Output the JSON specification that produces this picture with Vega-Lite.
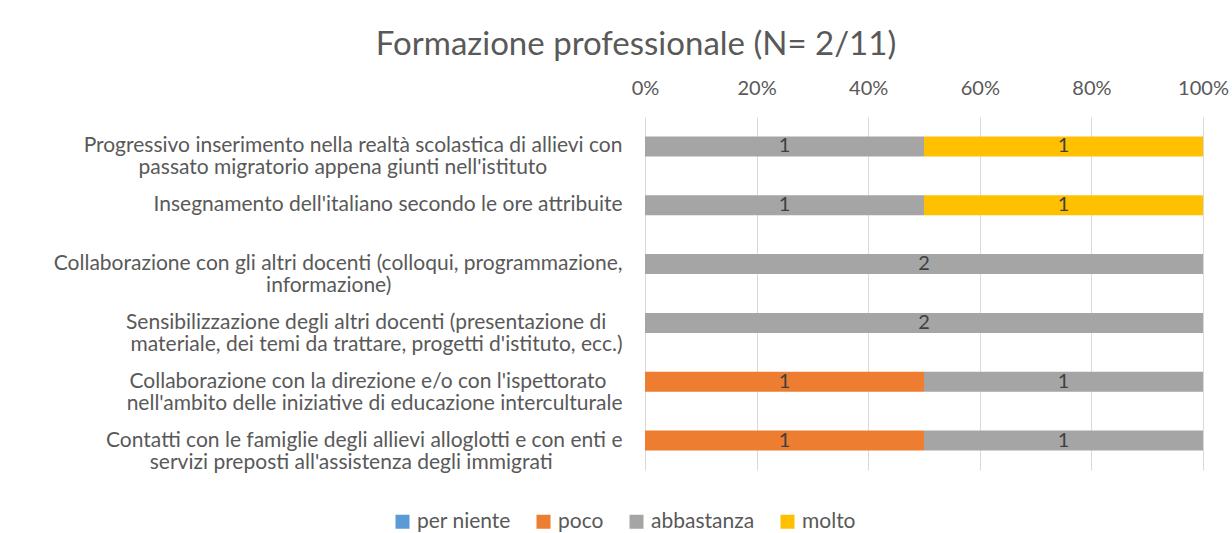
{
  "$schema": "https://vega.github.io/schema/vega-lite/v6.json",
  "width": 558,
  "height": 353,
  "autosize": {"type": "none"},
  "padding": {"left": 645, "top": 117, "right": 29, "bottom": 63},
  "background": "white",
  "title": {
    "text": "Formazione professionale (N= 2/11)",
    "font": "Lato",
    "fontSize": 33,
    "fontWeight": "normal",
    "color": "#595959",
    "anchor": "middle",
    "dx": -288,
    "offset": 16
  },
  "config": {
    "view": {"stroke": null},
    "font": "Lato"
  },
  "data": {
    "values": [
      {"categoria": "Progressivo inserimento nella realtà scolastica di allievi con|passato migratorio appena giunti nell'istituto", "livello": "abbastanza", "valore": 1},
      {"categoria": "Progressivo inserimento nella realtà scolastica di allievi con|passato migratorio appena giunti nell'istituto", "livello": "molto", "valore": 1},
      {"categoria": "Insegnamento dell'italiano secondo le ore attribuite", "livello": "abbastanza", "valore": 1},
      {"categoria": "Insegnamento dell'italiano secondo le ore attribuite", "livello": "molto", "valore": 1},
      {"categoria": "Collaborazione con gli altri docenti (colloqui, programmazione,|informazione)", "livello": "abbastanza", "valore": 2},
      {"categoria": "Sensibilizzazione degli altri docenti (presentazione di|materiale, dei temi da trattare, progetti d'istituto, ecc.)", "livello": "abbastanza", "valore": 2},
      {"categoria": "Collaborazione con la direzione e/o con l'ispettorato|nell'ambito delle iniziative di educazione interculturale", "livello": "poco", "valore": 1},
      {"categoria": "Collaborazione con la direzione e/o con l'ispettorato|nell'ambito delle iniziative di educazione interculturale", "livello": "abbastanza", "valore": 1},
      {"categoria": "Contatti con le famiglie degli allievi alloglotti e con enti e|servizi preposti all'assistenza degli immigrati", "livello": "poco", "valore": 1},
      {"categoria": "Contatti con le famiglie degli allievi alloglotti e con enti e|servizi preposti all'assistenza degli immigrati", "livello": "abbastanza", "valore": 1}
    ]
  },
  "transform": [
    {"calculate": "indexof(['per niente','poco','abbastanza','molto'], datum.livello)", "as": "ord"},
    {"stack": "valore", "groupby": ["categoria"], "sort": [{"field": "ord", "order": "ascending"}], "as": ["x0", "x1"], "offset": "normalize"},
    {"calculate": "(datum.x0 + datum.x1) / 2", "as": "xmid"}
  ],
  "encoding": {
    "y": {
      "field": "categoria",
      "type": "nominal",
      "sort": null,
      "scale": {"paddingInner": 0.66, "paddingOuter": 0.33},
      "axis": {
        "title": null,
        "ticks": false,
        "domain": false,
        "labelExpr": "length(split(datum.label, '|')) < 2 ? datum.label : [pad(split(datum.label, '|')[0], length(split(datum.label, '|')[0]) + round(max(0, length(split(datum.label, '|')[1]) - length(split(datum.label, '|')[0])) * 0.85), '\u00a0') + '\u2060', pad(split(datum.label, '|')[1], length(split(datum.label, '|')[1]) + round(max(0, length(split(datum.label, '|')[0]) - length(split(datum.label, '|')[1])) * 0.85), '\u00a0') + '\u2060']",
        "labelAlign": "right",
        "labelBaseline": "middle",
        "labelPadding": 23,
        "labelLimit": 0,
        "labelFont": "Lato",
        "labelFontSize": 21,
        "labelLineHeight": 22,
        "labelColor": "#595959"
      }
    }
  },
  "layer": [
    {
      "mark": {"type": "bar"},
      "encoding": {
        "x": {
          "field": "x0",
          "type": "quantitative",
          "scale": {"domain": [0, 1], "nice": false},
          "axis": {
            "orient": "top",
            "title": null,
            "format": "%",
            "values": [0, 0.2, 0.4, 0.6, 0.8, 1],
            "domain": false,
            "ticks": false,
            "grid": true,
            "gridColor": "#d9d9d9",
            "gridWidth": 1,
            "labelFont": "Lato",
            "labelFontSize": 20,
            "labelColor": "#595959",
            "labelPadding": 19,
            "labelFlush": false
          }
        },
        "x2": {"field": "x1"},
        "color": {
          "field": "livello",
          "type": "nominal",
          "scale": {
            "domain": ["per niente", "poco", "abbastanza", "molto"],
            "range": ["#5b9bd5", "#ed7d31", "#a5a5a5", "#ffc000"]
          },
          "legend": {
            "title": null,
            "orient": "none",
            "direction": "horizontal",
            "columns": 4,
            "legendX": -253,
            "legendY": 394,
            "symbolType": "square",
            "symbolSize": 196,
            "symbolStrokeWidth": 0,
            "labelFont": "Lato",
            "labelFontSize": 21,
            "labelColor": "#595959",
            "labelOffset": 4,
            "columnPadding": 22
          }
        }
      }
    },
    {
      "mark": {"type": "text", "font": "Lato", "fontSize": 20, "color": "#404040", "baseline": "middle", "align": "center"},
      "encoding": {
        "x": {"field": "xmid", "type": "quantitative"},
        "text": {"field": "valore", "type": "quantitative"}
      }
    }
  ]
}
